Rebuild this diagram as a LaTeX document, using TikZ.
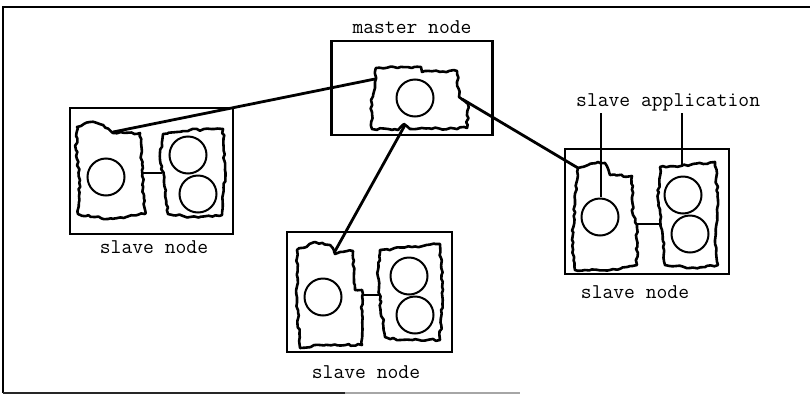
\documentclass[tikz,border=0pt]{standalone}
\usepackage{fontspec}
\usetikzlibrary{decorations.pathmorphing}
\begin{document}
\begin{tikzpicture}[x=1pt,y=-1pt,
 box/.style={draw, line width=2.6pt, inner sep=0pt, rectangle},
 blob/.style={draw, line width=2.6pt, line join=round, decorate, decoration={random steps, segment length=3.5pt, amplitude=1.1pt}},
 app/.style={draw, circle, line width=2pt, minimum size=37pt, inner sep=0pt},
 link/.style={line width=2.8pt},
 thin/.style={line width=2pt},
 lbl/.style={font=\ttfamily\fontsize{21}{21}\selectfont, inner sep=0pt}]
\pgfmathsetseed{7}
\useasboundingbox (0,0) rectangle (810,394);
% outer frame
\draw[line width=2.2pt] (3,393) -- (3,7) -- (810,7);
\draw[line width=1.8pt, black!85] (3,393) -- (345,393);
\draw[line width=1.4pt, black!35] (345,393) -- (520,393);

% boxes
\node[box, minimum width=161pt, minimum height=94pt] (mbox) at (412,88) {};
\node[box, minimum width=163pt, minimum height=126pt] (lbox) at (151.5,171) {};
\node[box, minimum width=165pt, minimum height=120pt] (cbox) at (369.5,292) {};
\node[box, minimum width=164pt, minimum height=125pt] (rbox) at (647,211.5) {};

% labels
\node[lbl] (mlab) at (412,27) {master node};
\node[lbl] (llab) at (154,247) {slave node};
\node[lbl] (clab) at (366,372) {slave node};
\node[lbl] (rlab) at (635,292) {slave node};
\node[lbl, anchor=west] (alab) at (576,102) {slave application};

% master blob
\draw[blob] (376,68) -- (421,67) -- (422,72) -- (457,71) -- (459,97) -- (468,104) -- (467,128) -- (410,129) -- (404,124) -- (398,130) -- (372,129) -- (371,100) -- (375,88) -- cycle;
\node[app] (mc) at (415,98) {};
\coordinate (mL) at (375,79);
\coordinate (mB) at (405,125);
\coordinate (mR) at (462,99);

% left slave node
\draw[blob] (77,127) -- (90,122) -- (103,125) -- (113,133) -- (140,133) -- (142,170) -- (145,214) -- (108,219) -- (95,217) -- (78,214) -- (80,180) -- (76,150) -- cycle;
\draw[blob] (163,134) -- (190,130) -- (223,129) -- (225,170) -- (222,215) -- (190,217) -- (168,214) -- (164,180) -- (160,160) -- cycle;
\node[app] (la) at (106,177) {};
\node[app] (lb1) at (188,155) {};
\node[app] (lb2) at (198,194) {};
\coordinate (lA) at (113,132);
\coordinate (lj1) at (143,173);
\coordinate (lj2) at (162,173);

% centre slave node
\draw[blob] (297,250) -- (315,242) -- (330,245) -- (335,254) -- (340,252) -- (353,251) -- (355,290) -- (362,290) -- (362,345) -- (320,345) -- (300,348) -- (297,300) -- cycle;
\draw[blob] (380,250) -- (412,247) -- (440,244) -- (443,290) -- (440,340) -- (400,340) -- (385,337) -- (380,300) -- (378,270) -- cycle;
\node[app] (ca) at (323,297) {};
\node[app] (cb1) at (409,276) {};
\node[app] (cb2) at (415,315) {};
\coordinate (cA) at (334,253);
\coordinate (cj1) at (362,295);
\coordinate (cj2) at (379,295);

% right slave node
\draw[blob] (578,168) -- (598,162) -- (605,163) -- (610,175) -- (632,176) -- (633,215) -- (637,225) -- (637,265) -- (610,270) -- (575,270) -- (572,240) -- (575,200) -- cycle;
\draw[blob] (660,167) -- (690,165) -- (715,162) -- (718,200) -- (715,240) -- (718,265) -- (690,268) -- (665,265) -- (662,230) -- (658,200) -- cycle;
\node[app] (ra) at (600,217) {};
\node[app] (rb1) at (683,195) {};
\node[app] (rb2) at (690,234) {};
\coordinate (rA) at (578,168);
\coordinate (rj1) at (637,224);
\coordinate (rj2) at (659,224);
\coordinate (pS) at (601,113);
\coordinate (pSe) at (601,197);
\coordinate (pA) at (682,113);
\coordinate (pAe) at (682,167);

% connectors
\draw[link] (mL) -- (lA);
\draw[link] (mB) -- (cA);
\draw[link] (mR) -- (rA);
\draw[thin] (lj1) -- (lj2);
\draw[thin] (cj1) -- (cj2);
\draw[thin] (rj1) -- (rj2);
\draw[thin] (pS) -- (pSe);
\draw[thin] (pA) -- (pAe);
\end{tikzpicture}
\end{document}
